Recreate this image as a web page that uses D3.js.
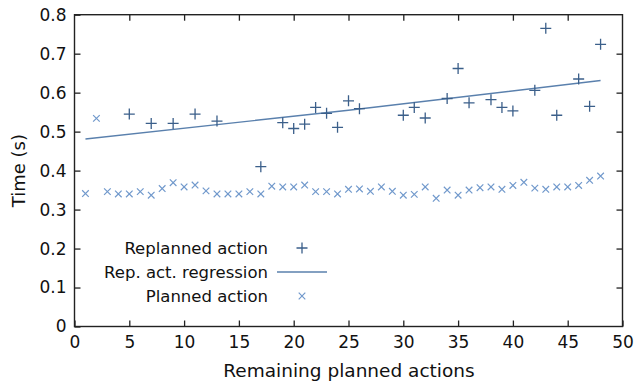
<!DOCTYPE html>
<html>
<head>
<meta charset="utf-8">
<script src="https://cdn.jsdelivr.net/npm/d3@7"></script>
<style>
  body { margin: 0; background: #fff; }
  svg text { font-family: "DejaVu Sans", Verdana, sans-serif; fill: #111; }
</style>
</head>
<body>
<svg id="chart" width="636" height="384"></svg>
<script>
// replanned actions (+)
const replannedX = [5, 7, 9, 11, 13, 17, 19, 20, 21, 22, 23, 24, 25, 26, 30, 31, 32, 34, 35, 36, 38, 39, 40, 42, 43, 44, 46, 47, 48]
const replannedY = [0.545, 0.521, 0.521, 0.545, 0.527, 0.410, 0.523, 0.508, 0.519, 0.562, 0.547, 0.511, 0.579, 0.559,
    0.542, 0.562, 0.535, 0.585, 0.662, 0.574, 0.582, 0.562, 0.553, 0.606, 0.765, 0.542, 0.635, 0.565, 0.724]

// regression line of replanned actions
const regressionX = [1, 25, 48]
const regressionY = [0.481, 0.555, 0.631]

// planned actions (x)
const plannedX = d3.range(1, 49)
const plannedY = [0.341, 0.534, 0.346, 0.340, 0.340, 0.346, 0.337, 0.354, 0.369, 0.358, 0.363, 0.348,
    0.340, 0.340, 0.340, 0.346, 0.340, 0.360, 0.358, 0.358, 0.363, 0.346, 0.346, 0.340,
    0.352, 0.353, 0.347, 0.358, 0.347, 0.337, 0.339, 0.358, 0.329, 0.350, 0.337, 0.350,
    0.356, 0.358, 0.352, 0.362, 0.370, 0.355, 0.352, 0.358, 0.358, 0.362, 0.375, 0.386]

const xTicks = [0, 5, 10, 15, 20, 25, 30, 35, 40, 45, 50]
const yTicks = [0, 0.1, 0.2, 0.3, 0.4, 0.5, 0.6, 0.7, 0.8]

const legendLabels = ["Replanned action", "Rep. act. regression", "Planned action"]

const COL_REP = "#3b5f8a"
const COL_REG = "#5a80ad"
const COL_PLAN = "#7199cc"

const LEFT = 74.5, RIGHT = 622.5, TOP = 14.7, BOTTOM = 326.5
const TICK = 6

const svg = d3.select("#chart")

const x = d3.scaleLinear().domain([0, 50]).range([LEFT, RIGHT])
const y = d3.scaleLinear().domain([0, 0.8]).range([BOTTOM, TOP])

// axes, ticks pointing inwards, mirrored on top and right
svg.append("g")
    .attr("transform", `translate(0,${BOTTOM})`)
    .call(d3.axisBottom(x).tickValues(xTicks).tickSize(-TICK).tickPadding(9).tickFormat(d3.format("d")))
    .call(g => g.selectAll("text").style("font-size", "17px"))
svg.append("g")
    .attr("transform", `translate(0,${TOP})`)
    .call(d3.axisTop(x).tickValues(xTicks.slice(1, -1)).tickSize(-TICK).tickFormat(""))
svg.append("g")
    .attr("transform", `translate(${LEFT},0)`)
    .call(d3.axisLeft(y).tickValues(yTicks).tickSize(-TICK).tickPadding(8).tickFormat(d => d === 0 ? "0" : d3.format(".1f")(d)))
    .call(g => g.selectAll("text").style("font-size", "17px"))
svg.append("g")
    .attr("transform", `translate(${RIGHT},0)`)
    .call(d3.axisRight(y).tickValues(yTicks.slice(1, -1)).tickSize(-TICK).tickFormat(""))

svg.selectAll(".domain").remove()
svg.selectAll(".tick line").attr("stroke", "#222").attr("stroke-width", 1.3)

// frame
svg.append("rect")
    .attr("x", LEFT).attr("y", TOP)
    .attr("width", RIGHT - LEFT).attr("height", BOTTOM - TOP)
    .attr("fill", "none").attr("stroke", "#222").attr("stroke-width", 1.4)

// axis titles
svg.append("text")
    .attr("x", 349).attr("y", 377)
    .attr("text-anchor", "middle")
    .style("font-size", "18.5px")
    .text("Remaining planned actions")
svg.append("text")
    .attr("transform", `translate(24.5,${(TOP + BOTTOM) / 2}) rotate(-90)`)
    .attr("text-anchor", "middle")
    .style("font-size", "18px")
    .text("Time (s)")

function plus(g, cx, cy, s) {
    g.append("path")
        .attr("d", `M${cx - s},${cy}H${cx + s}M${cx},${cy - s}V${cy + s}`)
        .attr("stroke", COL_REP).attr("stroke-width", 1.3).attr("fill", "none")
}

function cross(g, cx, cy, s) {
    g.append("path")
        .attr("d", `M${cx - s},${cy - s}L${cx + s},${cy + s}M${cx - s},${cy + s}L${cx + s},${cy - s}`)
        .attr("stroke", COL_PLAN).attr("stroke-width", 1.2).attr("fill", "none")
}

// planned points
const planG = svg.append("g")
plannedX.forEach((d, i) => cross(planG, x(d), y(plannedY[i]), 3.3))

// regression
const line = d3.line().x(d => x(d[0])).y(d => y(d[1]))
svg.append("path")
    .datum(regressionX.map((d, i) => [d, regressionY[i]]))
    .attr("d", line)
    .attr("fill", "none").attr("stroke", COL_REG).attr("stroke-width", 1.4)

// replanned points
const repG = svg.append("g")
replannedX.forEach((d, i) => plus(repG, x(d), y(replannedY[i]), 5.5))

// legend
const LEG_X = 268, LEG_Y = 248, LEG_DY = 24
const leg = svg.append("g")
legendLabels.forEach((t, i) => {
    leg.append("text")
        .attr("x", LEG_X).attr("y", LEG_Y + i * LEG_DY)
        .attr("dy", "0.35em")
        .attr("text-anchor", "end")
        .style("font-size", "16.5px")
        .text(t)
})
plus(leg, 302, LEG_Y, 5.5)
leg.append("line")
    .attr("x1", 277).attr("x2", 327)
    .attr("y1", LEG_Y + LEG_DY).attr("y2", LEG_Y + LEG_DY)
    .attr("stroke", COL_REG).attr("stroke-width", 1.4)
cross(leg, 302, LEG_Y + 2 * LEG_DY, 3.3)
</script>
</body>
</html>
